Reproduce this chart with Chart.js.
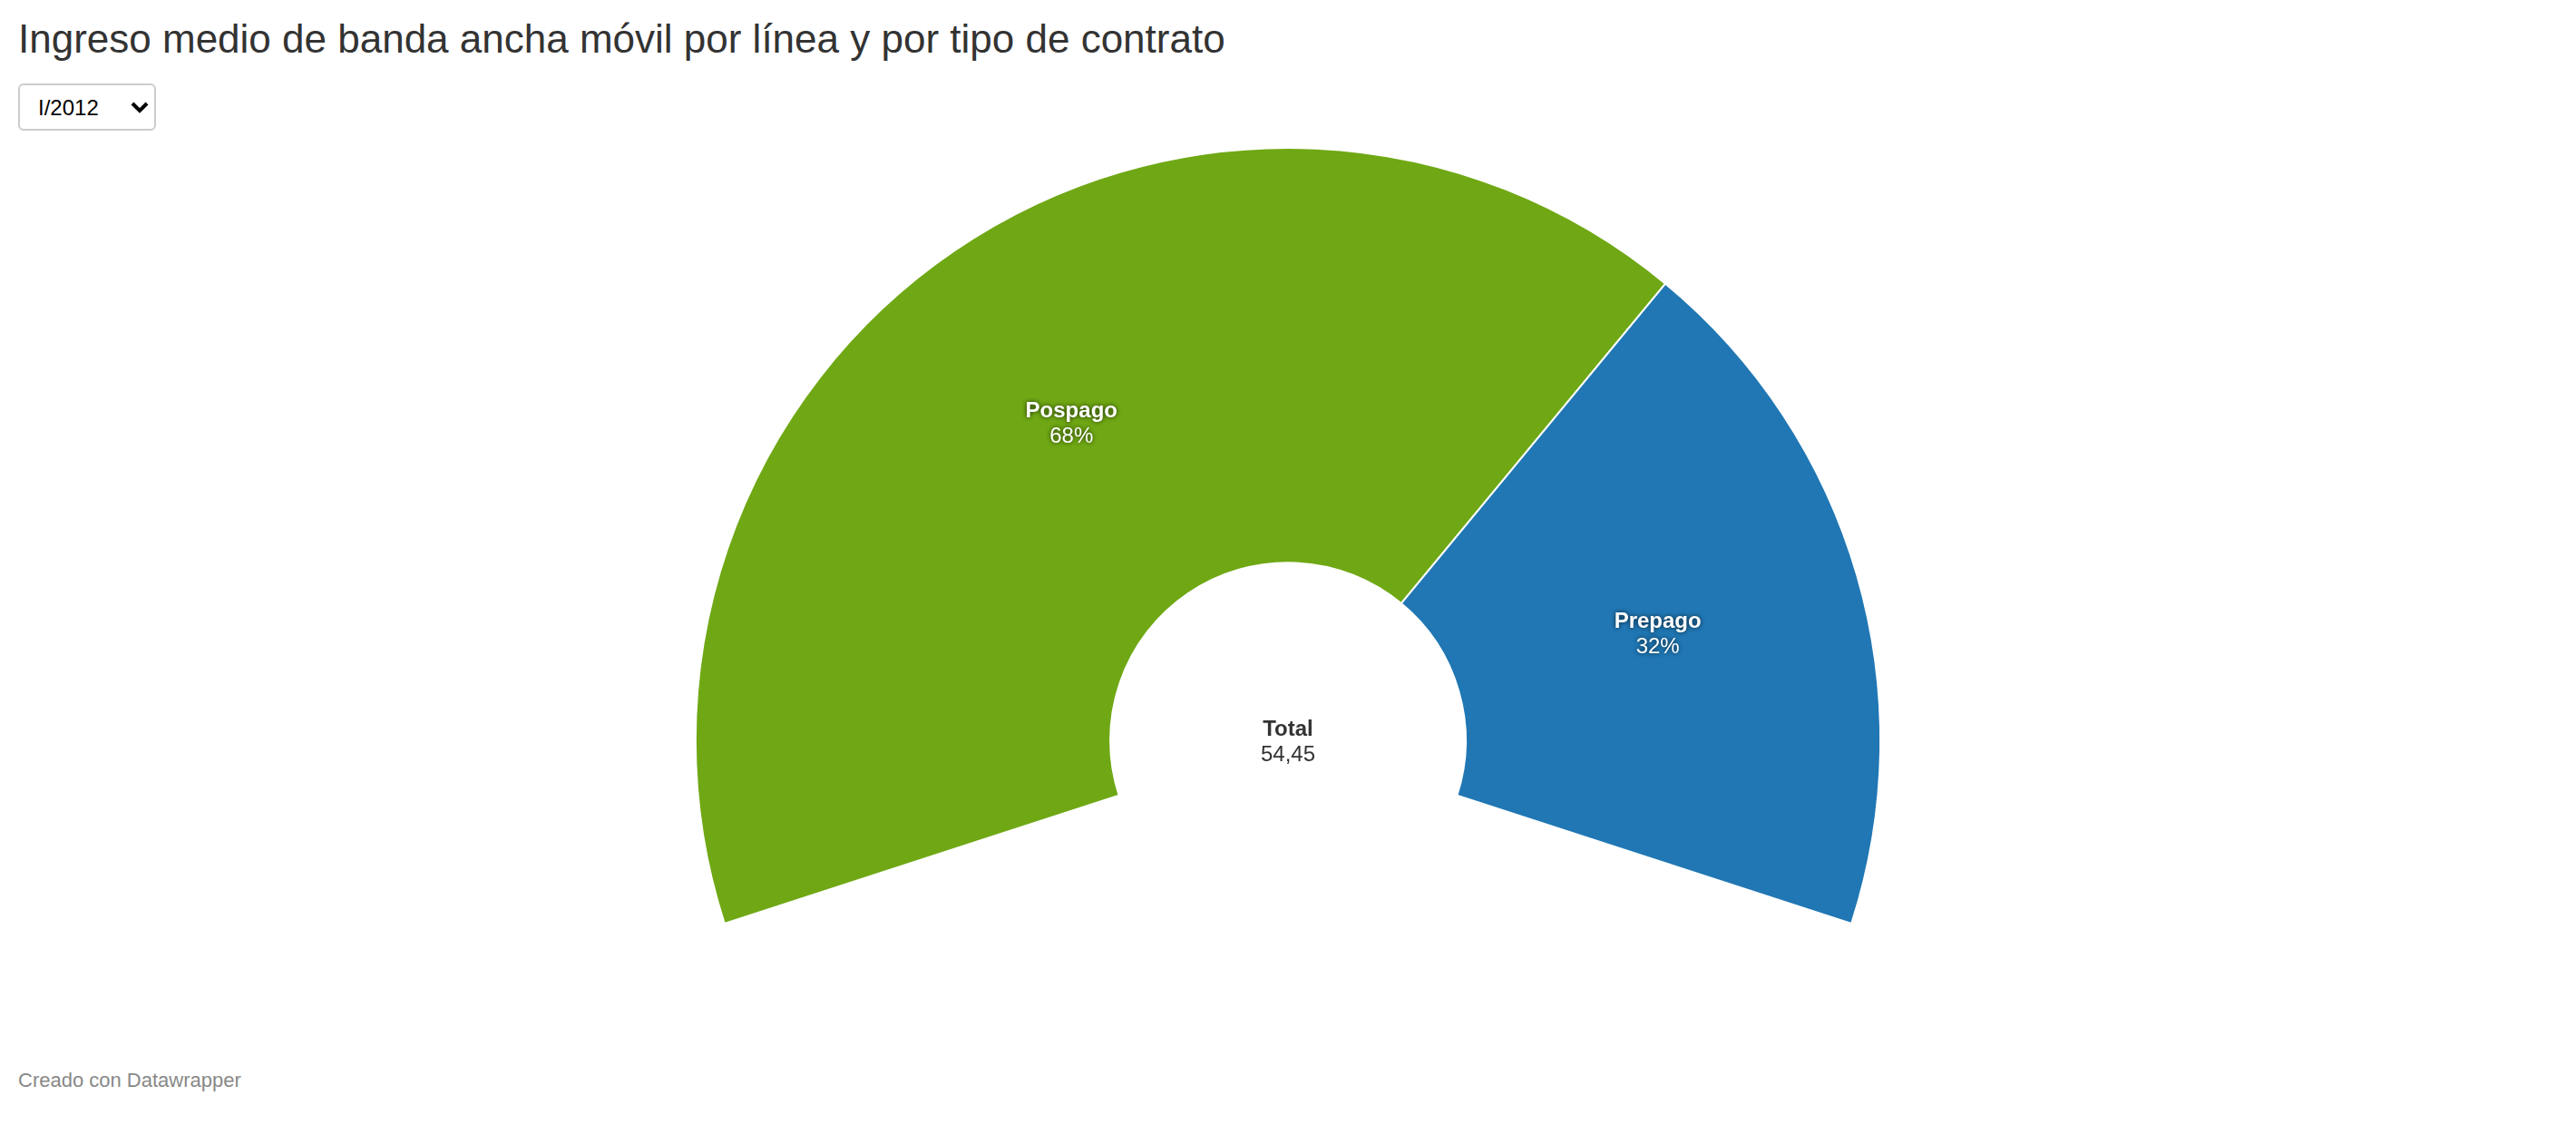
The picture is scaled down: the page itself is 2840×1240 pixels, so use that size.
<!DOCTYPE html>
<html>
<head>
<meta charset="utf-8">
<script src="https://cdn.jsdelivr.net/npm/chart.js@4"></script>
<style>
  html, body { margin: 0; padding: 0; background: #fff; width: 2840px; height: 1240px; overflow: hidden; font-family: "Liberation Sans", Arial, sans-serif; }
  #title { position: absolute; left: 20px; top: 18px; font-size: 44px; color: #333; font-weight: 400; white-space: nowrap; }
  #sel { position: absolute; left: 20px; top: 92px; width: 152px; height: 52px; font-size: 24px; font-family: "Liberation Sans", Arial, sans-serif; border: 2px solid #ccc; border-radius: 6px; color: #000; padding: 0 0 0 20px;
    -webkit-appearance: none; appearance: none;
    background: #fff url("data:image/svg+xml;utf8,<svg xmlns='http://www.w3.org/2000/svg' width='20' height='14' viewBox='0 0 20 14'><path d='M2 3 L10 11 L18 3' fill='none' stroke='black' stroke-width='4'/></svg>") no-repeat right 6px center; }
  #wrap { position: absolute; left: 0; top: 162px; width: 2840px; height: 857px; }
  #footer { position: absolute; left: 20px; top: 1178px; font-size: 22px; color: #888; }
</style>
</head>
<body>
<div id="title">Ingreso medio de banda ancha móvil por línea y por tipo de contrato</div>
<select id="sel"><option>I/2012</option></select>
<div id="wrap"><canvas id="c"></canvas></div>
<div id="footer">Creado con Datawrapper</div>
<script>
const categories = ["Pospago", "Prepago"];
const values = [37.2, 17.25];
const colors = ["#6fa814", "#2077b4"];
const totalLabel = "Total";

const fmt = v => v.toFixed(2).replace('.', ',');

const labelPlugin = {
  id: 'sliceLabels',
  afterDatasetsDraw(chart) {
    const ctx = chart.ctx;
    const meta = chart.getDatasetMeta(0);
    const data = chart.data.datasets[0].data;
    const total = data.reduce((a, b) => a + b, 0);
    ctx.save();
    ctx.textAlign = 'center';
    ctx.textBaseline = 'middle';
    meta.data.forEach((arc, i) => {
      const p = arc.tooltipPosition();
      ctx.shadowColor = 'rgba(0,0,0,0.75)';
      ctx.shadowBlur = 5;
      ctx.fillStyle = '#fff';
      ctx.font = 'bold 24px "Liberation Sans", Arial, sans-serif';
      ctx.fillText(chart.data.labels[i], p.x, p.y - 12);
      ctx.font = '24px "Liberation Sans", Arial, sans-serif';
      ctx.fillText(Math.round(data[i] / total * 100) + '%', p.x, p.y + 16);
    });
    const a0 = meta.data[0];
    ctx.shadowColor = 'transparent';
    ctx.shadowBlur = 0;
    ctx.fillStyle = '#333';
    ctx.font = 'bold 24px "Liberation Sans", Arial, sans-serif';
    ctx.fillText(totalLabel, a0.x, a0.y - 12);
    ctx.font = '24px "Liberation Sans", Arial, sans-serif';
    ctx.fillText(fmt(total), a0.x, a0.y + 16);
    ctx.restore();
  }
};

new Chart(document.getElementById('c'), {
  type: 'doughnut',
  data: {
    labels: categories,
    datasets: [{
      data: values,
      backgroundColor: colors,
      borderColor: '#ffffff',
      borderWidth: 2,
      hoverOffset: 0
    }]
  },
  options: {
    responsive: true,
    maintainAspectRatio: false,
    animation: false,
    rotation: -108,
    circumference: 216,
    cutout: '30%',
    layout: { padding: 0 },
    plugins: { legend: { display: false }, tooltip: { enabled: false } }
  },
  plugins: [labelPlugin]
});
</script>
</body>
</html>
